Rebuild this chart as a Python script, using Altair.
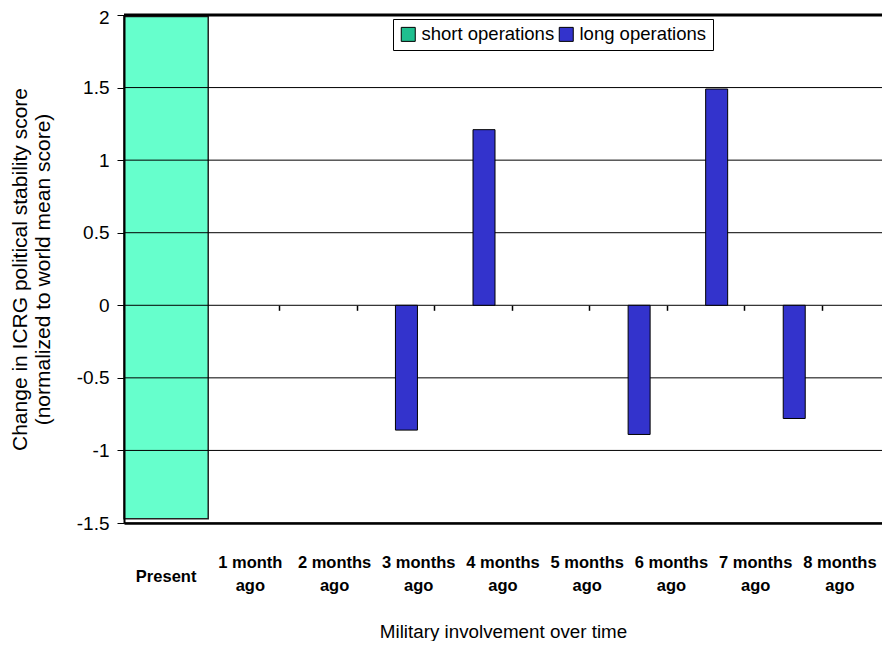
import altair as alt
import pandas as pd

periods = ["Present", "1 month ago", "2 months ago", "3 months ago", "4 months ago",
           "5 months ago", "6 months ago", "7 months ago", "8 months ago"]
short_period = ["Present"]
short_top = [1.99]
short_bottom = [-1.47]
long_periods = ["3 months ago", "4 months ago", "6 months ago", "7 months ago", "8 months ago"]
long_values = [-0.86, 1.21, -0.89, 1.49, -0.78]
series = ["short operations", "long operations"]
series_colors = ["#1FBF8F", "#3333CC"]
y_ticks = [-1.5, -1, -0.5, 0, 0.5, 1, 1.5, 2]

FONT = "Liberation Sans"

short_df = pd.DataFrame({"period": short_period, "top": short_top, "bottom": short_bottom})
long_df = pd.DataFrame({"period": long_periods, "value": long_values, "series": series[1]})
grid_df = pd.DataFrame({"v": y_ticks})

y_scale = alt.Scale(domain=[-1.5, 2], nice=False)
y_axis = alt.Axis(
    values=y_ticks, labelExpr="'' + datum.value", labelFont=FONT, labelFontSize=19,
    labelColor="black", labelPadding=8, tickSize=7, tickColor="black", tickWidth=1,
    labelOffset={"condition": {"test": "datum.value == 2", "value": 2}, "value": 0},
    domainColor="black", domainWidth=2, grid=False, zindex=1,
    title=["Change in ICRG political stability score", "(normalized to world mean score)"],
    titleFont=FONT, titleFontSize=21, titleFontWeight="normal", titleColor="black",
    titleLineHeight=23, titleX=-104, titleY=254, titleAngle=-90,
    titleBaseline="middle", titleAlign="center",
)

x_label_axis = alt.Axis(
    labelExpr="datum.label == 'Present' ? 'Present' : [replace(datum.label, ' ago', ''), 'ago']",
    labelFont=FONT, labelFontSize=16.5, labelFontWeight="bold", labelColor="black",
    labelBaseline="middle", labelLineHeight=23, labelAngle=0,
    labelPadding={"condition": {"test": "datum.label == 'Present'", "value": 53}, "value": 39},
    labelLimit=0, ticks=False, tickSize=0, domainColor="black", domainWidth=2.5, zindex=1,
    title="Military involvement over time", titleFont=FONT, titleFontSize=18.8,
    titleFontWeight="normal", titleColor="black", titleY=108, titleBaseline="middle",
)

present = alt.Chart(short_df).mark_bar(color="#66FFCC", stroke="#222222", strokeWidth=1.5).encode(
    x=alt.X("period:N", sort=periods,
            scale=alt.Scale(domain=periods, paddingInner=0, paddingOuter=0),
            axis=x_label_axis),
    y=alt.Y("top:Q", scale=y_scale, axis=y_axis),
    y2="bottom:Q",
)

grid = alt.Chart(grid_df).mark_rule(color="black").encode(
    y=alt.Y("v:Q", scale=y_scale, axis=y_axis),
    strokeWidth=alt.condition(alt.datum.v == 2, alt.value(3), alt.value(1)),
)

long_bars = alt.Chart(long_df).mark_bar(width=22, xOffset=11, stroke="black", strokeWidth=1).encode(
    x=alt.X("period:N", sort=periods,
            scale=alt.Scale(domain=periods, range=[0, 698], paddingInner=0, paddingOuter=0),
            axis=alt.Axis(orient="bottom", offset=-217.7, labels=False, domain=False,
                          ticks=True, tickBand="extent", tickSize=5, tickColor="black",
                          tickWidth=1.5, grid=False, title=None)),
    y=alt.Y("value:Q", scale=y_scale, axis=y_axis),
    color=alt.Color("series:N", scale=alt.Scale(domain=series, range=series_colors),
                    legend=alt.Legend(
                        orient="none", legendX=269, legendY=4, direction="horizontal",
                        title=None, strokeColor="black", fillColor="white", padding=6,
                        symbolType="square", symbolSize=196, symbolStrokeColor="black",
                        symbolStrokeWidth=1, labelFont=FONT, labelFontSize=18.5,
                        labelColor="black", labelOffset=4, columnPadding=2,
                        cornerRadius=0, labelLimit=0)),
)

chart = alt.layer(present, grid, long_bars).resolve_scale(x="independent").properties(
    width=758, height=508,
    autosize=alt.AutoSizeParams(type="none"),
    padding={"left": 116, "top": 7, "right": 0, "bottom": 118},
    background="white",
).configure_view(stroke=None)

chart.save("out.html", embed_options={"renderer": "svg", "actions": False})
